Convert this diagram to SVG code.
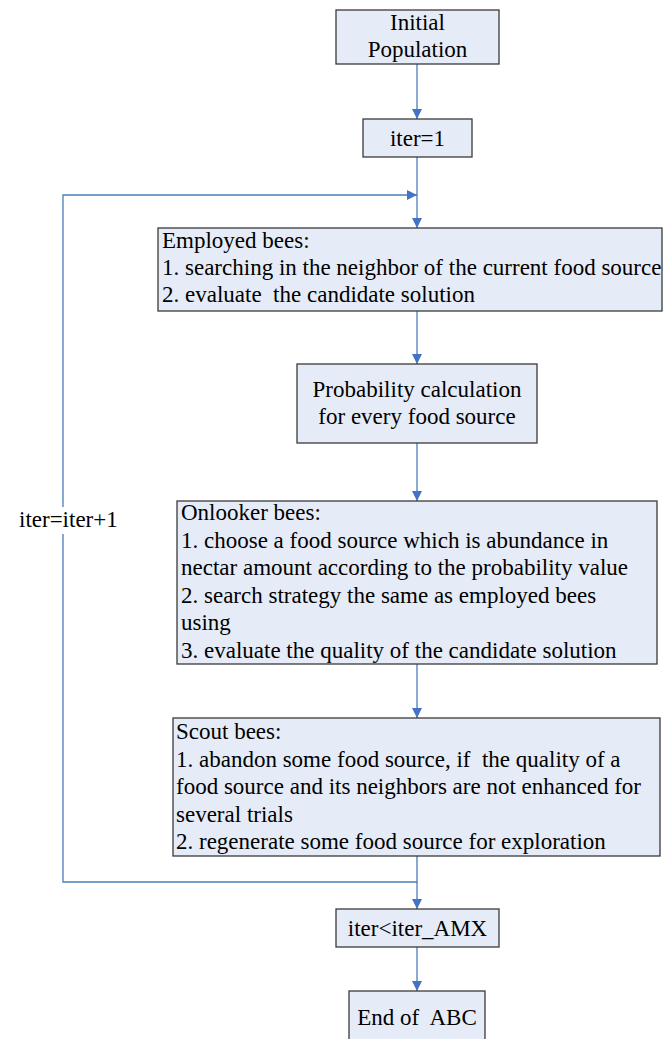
<svg xmlns="http://www.w3.org/2000/svg" width="663" height="1039" viewBox="0 0 663 1039">
<style>
.box{fill:#e6ecf7;stroke:#3a3a3a;stroke-width:1.3}
.t{font-family:"Liberation Serif","Times New Roman",serif;font-size:23px;fill:#000;white-space:pre}
.c{text-anchor:middle}
.ln{fill:none;stroke:#4a7ebb;stroke-width:1.3}
</style>
<defs>
<marker id="ah" markerUnits="userSpaceOnUse" markerWidth="10" markerHeight="10" refX="10" refY="5" orient="auto">
<path d="M0,0 L10,5 L0,10 Z" fill="#4472c4"/>
</marker>
</defs>
<rect width="663" height="1039" fill="#fff"/>
<g id="connectors">
<line class="ln" x1="417" y1="64" x2="417" y2="119" marker-end="url(#ah)"/>
<line class="ln" x1="417" y1="157" x2="417" y2="228" marker-end="url(#ah)"/>
<polyline class="ln" points="417,856 417,882 63,882 63,195 417,195" marker-end="url(#ah)"/>
<line class="ln" x1="417" y1="311" x2="417" y2="364" marker-end="url(#ah)"/>
<line class="ln" x1="417" y1="443" x2="417" y2="501" marker-end="url(#ah)"/>
<line class="ln" x1="417" y1="664" x2="417" y2="718" marker-end="url(#ah)"/>
<line class="ln" x1="417" y1="882" x2="417" y2="909" marker-end="url(#ah)"/>
<line class="ln" x1="417" y1="947" x2="417" y2="991" marker-end="url(#ah)"/>
<g id="loop-label">
<rect x="17" y="507" width="104" height="27" fill="#fff"/>
<text class="t" x="19" y="527">iter=iter+1</text>
</g>
</g>
<g id="init">
<rect class="box" x="336" y="10" width="163" height="54"/>
<text class="t c" x="417.5" y="30">Initial</text>
<text class="t c" x="417.5" y="57">Population</text>
</g>
<g id="iter1">
<rect class="box" x="363" y="119" width="109" height="38"/>
<text class="t c" x="417.5" y="146">iter=1</text>
</g>
<g id="employed">
<rect class="box" x="158" y="228" width="504" height="83"/>
<text class="t" x="162" y="248">Employed bees:</text>
<text class="t" x="162" y="275">1. searching in the neighbor of the current food source</text>
<text class="t" x="162" y="302">2. evaluate  the candidate solution</text>
</g>
<g id="probability">
<rect class="box" x="297" y="364" width="240" height="79"/>
<text class="t c" x="417" y="397">Probability calculation</text>
<text class="t c" x="417" y="424">for every food source</text>
</g>
<g id="onlooker">
<rect class="box" x="177" y="501" width="480" height="163"/>
<text class="t" x="181" y="520">Onlooker bees:</text>
<text class="t" x="181" y="547.5">1. choose a food source which is abundance in</text>
<text class="t" x="181" y="575">nectar amount according to the probability value</text>
<text class="t" x="181" y="602.5">2. search strategy the same as employed bees</text>
<text class="t" x="181" y="630">using</text>
<text class="t" x="181" y="657.5">3. evaluate the quality of the candidate solution</text>
</g>
<g id="scout">
<rect class="box" x="173" y="718" width="487" height="138"/>
<text class="t" x="176" y="739">Scout bees:</text>
<text class="t" x="176" y="766.5">1. abandon some food source, if  the quality of a</text>
<text class="t" x="176" y="794">food source and its neighbors are not enhanced for</text>
<text class="t" x="176" y="821.5">several trials</text>
<text class="t" x="176" y="849">2. regenerate some food source for exploration</text>
</g>
<g id="check">
<rect class="box" x="336" y="909" width="163" height="38"/>
<text class="t c" x="417.5" y="936">iter&lt;iter_AMX</text>
</g>
<g id="end">
<rect class="box" x="349" y="991" width="136" height="60"/>
<text class="t c" x="417" y="1025">End of  ABC</text>
</g>
</svg>
